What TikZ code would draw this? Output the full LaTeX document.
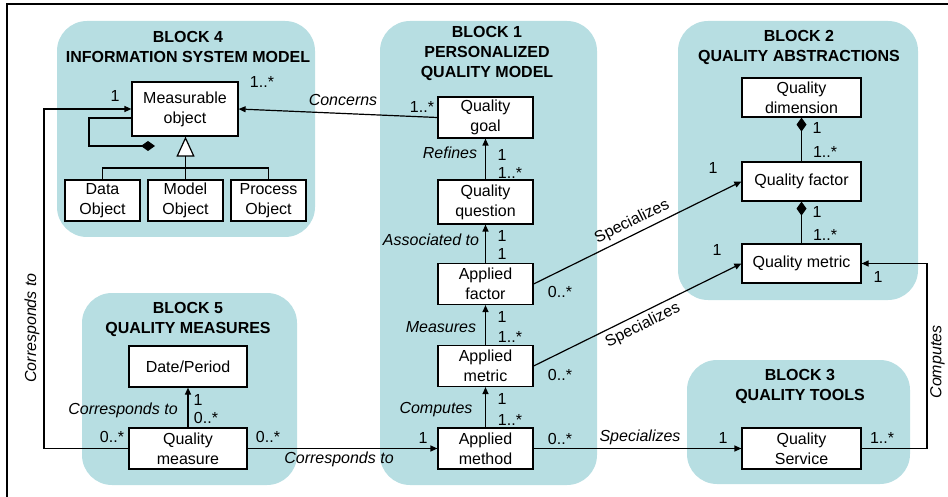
\documentclass[tikz,border=0pt]{standalone}
\usepackage{fontspec}
\setmainfont{Liberation Sans}
\usetikzlibrary{arrows.meta,calc}
\definecolor{blockteal}{RGB}{183,222,226}

\begin{document}
\begin{tikzpicture}[x=1pt,y=-1pt,
    font=\fontsize{16}{20}\selectfont,
    block/.style={fill=blockteal, rounded corners=30pt},
    title/.style={font=\fontsize{16}{20}\selectfont\bfseries, align=center},
    cls/.style={draw, line width=1.2pt, fill=white, align=center, inner sep=0pt,
        minimum width=#1, minimum height=41pt},
    lbl/.style={font=\fontsize{16}{20}\selectfont\itshape, inner sep=0pt},
    mult/.style={inner sep=0pt},
    arr/.style={line width=1.2pt, -{Triangle[length=7pt,width=6pt]}},
    comp/.style={line width=1.2pt, -{Diamond[length=14pt,width=10pt]}},
    inh/.style={line width=1.2pt, -{Triangle[open,fill=white,length=20pt,width=18pt]}}]
    \useasboundingbox (0,0) rectangle (948,497);
    \draw[line width=1.4pt] (948,4) -- (7,4) -- (7,497);
    % blocks
    \fill[block] (57,21) rectangle (315,237);
    \fill[block] (380,21) rectangle (597,485);
    \fill[block] (678,21) rectangle (918,300);
    \fill[block] (82,293) rectangle (297,485);
    \fill[block] (687,360) rectangle (910,484);
    \node[title] (t4) at (188,47) {BLOCK 4\\INFORMATION SYSTEM MODEL};
    \node[title] (t1) at (487,53) {BLOCK 1\\PERSONALIZED\\QUALITY MODEL};
    \node[title] (t2) at (799,47) {BLOCK 2\\QUALITY ABSTRACTIONS};
    \node[title] (t5) at (188,319) {BLOCK 5\\QUALITY MEASURES};
    \node[title] (t3) at (800,386) {BLOCK 3\\QUALITY TOOLS};
    % classes
    \node[cls=106pt, minimum height=54pt] (mobj) at (185,109) {Measurable\\object};
    \node[cls=75pt] (dobj) at (102.5,200.5) {Data\\Object};
    \node[cls=75pt] (modobj) at (185.5,200.5) {Model\\Object};
    \node[cls=75pt] (pobj) at (268.5,200.5) {Process\\Object};
    \node[cls=95pt] (goal) at (485.5,117.5) {Quality\\goal};
    \node[cls=95pt, minimum height=44pt] (question) at (485.5,202) {Quality\\question};
    \node[cls=95pt] (factor) at (485.5,284) {Applied\\factor};
    \node[cls=95pt] (ametric) at (485.5,366) {Applied\\metric};
    \node[cls=95pt] (amethod) at (485.5,448.5) {Applied\\method};
    \node[cls=119pt, minimum height=39pt] (qdim) at (801.5,97.5) {Quality\\dimension};
    \node[cls=119pt, minimum height=39pt] (qfactor) at (801.5,181.5) {Quality factor};
    \node[cls=119pt, minimum height=39pt] (qmetric) at (801.5,263.5) {Quality metric};
    \node[cls=119pt] (service) at (801.5,448.5) {Quality\\Service};
    \node[cls=118pt] (date) at (188,366.5) {Date/Period};
    \node[cls=118pt] (measure) at (188,448.5) {Quality\\measure};
    % block 4 links
    \coordinate (tri) at (185.5,168);
    \coordinate (loop) at (89,146);
    \coordinate (dia) at (155,146);
    \draw[line width=1.2pt] (dobj.north) |- (tri);
    \draw[line width=1.2pt] (pobj.north) |- (tri);
    \draw[inh] (modobj.north) -- (modobj.north |- mobj.south);
    \draw[comp] ([yshift=-9pt]mobj.west) -| (loop) -- (dia);
    \draw[arr] (goal.west) -- (mobj.east);
    \coordinate (lc) at (44,109);
    \draw[arr] (measure.west) -| (lc) -- (mobj.west);
    % block 1 links
    \draw[arr] (question) -- (goal);
    \draw[arr] (factor) -- (question);
    \draw[arr] (ametric) -- (factor);
    \draw[arr] (amethod) -- (ametric);
    % block 2 links
    \draw[comp] (qfactor) -- (qdim);
    \draw[comp] (qmetric) -- (qfactor);
    % between blocks
    \draw[arr] (factor.east) -- (qfactor.west)
        node[midway, above=4pt, sloped, inner sep=0pt] (sp1) {Specializes};
    \draw[arr] (ametric.east) -- (qmetric.west)
        node[midway, below=4pt, sloped, inner sep=0pt] (sp2) {Specializes};
    \draw[arr] (amethod.east) -- (service.west);
    \coordinate (rc) at (927,263.5);
    \draw[arr] (service.east) -| (rc) -- (qmetric.east);
    \draw[arr] (measure.east) -- (amethod.west);
    \draw[arr] (measure) -- (date);
    % association labels
    \node[lbl] (l1) at (343,100) {Concerns};
    \node[lbl] (l2) at (450,153) {Refines};
    \node[lbl] (l3) at (431,240) {Associated to};
    \node[lbl] (l4) at (441,327) {Measures};
    \node[lbl] (l5) at (436,410) {Computes};
    \node[lbl] (l6) at (123,410) {Corresponds to};
    \node[lbl] (l7) at (339,459) {Corresponds to};
    \node[lbl] (l8) at (640,437) {Specializes};
    \node[lbl, rotate=90] (l9) at (32,328) {Corresponds to};
    \node[lbl, rotate=90] (l10) at (937.5,362) {Computes};
    % multiplicities
    \node[mult] (m1) at (115,96) {1};
    \node[mult] (m2) at (262,82) {1..*};
    \node[mult] (m3) at (422,107) {1..*};
    \node[mult] (m4) at (502,155) {1};
    \node[mult] (m5) at (510,173) {1..*};
    \node[mult] (m6) at (502,236) {1};
    \node[mult] (m7) at (502,254) {1};
    \node[mult] (m8) at (502,317) {1};
    \node[mult] (m9) at (510,337) {1..*};
    \node[mult] (m10) at (502,399) {1};
    \node[mult] (m11) at (510,420) {1..*};
    \node[mult] (m12) at (560,292) {0..*};
    \node[mult] (m13) at (560,375) {0..*};
    \node[mult] (m14) at (560,439) {0..*};
    \node[mult] (m15) at (423,438) {1};
    \node[mult] (m16) at (112,437) {0..*};
    \node[mult] (m17) at (268,437) {0..*};
    \node[mult] (m18) at (198,400) {1};
    \node[mult] (m19) at (206,418) {0..*};
    \node[mult] (m20) at (817,128) {1};
    \node[mult] (m21) at (825,152) {1..*};
    \node[mult] (m22) at (713,168) {1};
    \node[mult] (m23) at (817,212) {1};
    \node[mult] (m24) at (825,235) {1..*};
    \node[mult] (m25) at (717,250) {1};
    \node[mult] (m26) at (878,277) {1};
    \node[mult] (m27) at (723,438) {1};
    \node[mult] (m28) at (882,438) {1..*};
\end{tikzpicture}
\end{document}
